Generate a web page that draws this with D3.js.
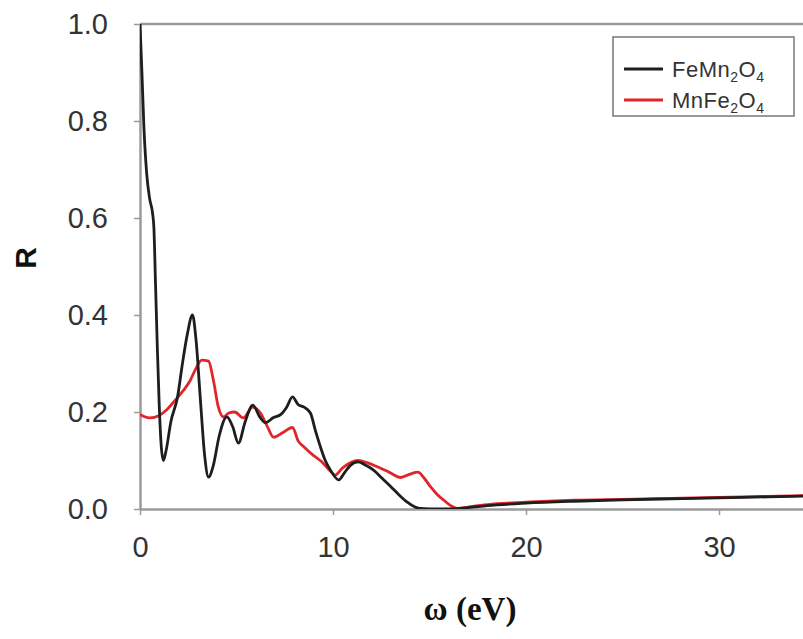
<!DOCTYPE html>
<html>
<head>
<meta charset="utf-8">
<script src="https://cdn.jsdelivr.net/npm/d3@7"></script>
<style>
  body { margin: 0; background: #fff; }
  svg { display: block; }
</style>
</head>
<body>
<svg id="chart"></svg>
<script>
// photon energy (eV) and reflectivity
const feMnE = [0, 0.1, 0.2, 0.35, 0.5, 0.65, 0.72, 0.8, 0.9, 1.0, 1.1, 1.21, 1.35, 1.6, 1.94, 2.2, 2.45, 2.72, 2.9, 3.13, 3.35, 3.55, 3.8, 4.1, 4.5, 4.8, 5.1, 5.45, 5.85, 6.2, 6.5, 6.9, 7.3, 7.6, 7.9, 8.2, 8.5, 8.83, 9.1, 9.35, 9.6, 9.87, 10.3, 10.6, 10.9, 11.3, 11.7, 12.1, 12.5, 13.0, 13.4, 13.85, 14.2, 14.5, 15, 16, 17, 18, 20, 22.5, 25, 27.5, 30, 32.5, 35];
const feMnR = [1.0, 0.9, 0.79, 0.69, 0.64, 0.61, 0.58, 0.47, 0.33, 0.21, 0.13, 0.10, 0.12, 0.18, 0.23, 0.30, 0.36, 0.40, 0.35, 0.225, 0.11, 0.066, 0.09, 0.15, 0.19, 0.17, 0.136, 0.18, 0.214, 0.19, 0.178, 0.188, 0.195, 0.21, 0.231, 0.215, 0.21, 0.198, 0.16, 0.128, 0.10, 0.08, 0.06, 0.075, 0.09, 0.097, 0.09, 0.08, 0.065, 0.046, 0.03, 0.014, 0.005, 0.001, 0, 0, 0.003, 0.007, 0.012, 0.016, 0.019, 0.021, 0.023, 0.025, 0.027];

const mnFeE = [0, 0.5, 1.0, 1.4, 1.84, 2.26, 2.6, 2.9, 3.2, 3.55, 3.8, 4.06, 4.33, 4.6, 4.9, 5.36, 5.83, 6.24, 6.6, 6.92, 7.38, 7.9, 8.2, 8.5, 9.0, 9.4, 9.87, 10.1, 10.5, 11.3, 11.8, 12.3, 12.9, 13.5, 14.0, 14.4, 14.7, 15.05, 15.4, 15.75, 16.1, 16.45, 17, 18, 20, 22.5, 25, 27.5, 30, 32.5, 35];
const mnFeR = [0.195, 0.188, 0.193, 0.205, 0.225, 0.245, 0.265, 0.29, 0.307, 0.305, 0.266, 0.21, 0.19, 0.198, 0.2, 0.188, 0.21, 0.198, 0.17, 0.148, 0.157, 0.168, 0.14, 0.128, 0.11, 0.098, 0.078, 0.07, 0.085, 0.1, 0.095, 0.087, 0.076, 0.065, 0.072, 0.076, 0.065, 0.046, 0.03, 0.018, 0.007, 0.001, 0.004, 0.009, 0.014, 0.018, 0.02, 0.022, 0.024, 0.026, 0.028];

const xTicks = [0, 10, 20, 30];
const yTicks = [0, 0.2, 0.4, 0.6, 0.8, 1.0];

const series = [
    { name: ["FeMn", "2", "O", "4"], e: feMnE, r: feMnR, color: "#1e1e1e" },
    { name: ["MnFe", "2", "O", "4"], e: mnFeE, r: mnFeR, color: "#e0252b" }
];

const width = 803, height = 639;
const margin = { top: 24, left: 140, bottom: 130 };
const axisColor = "#9a9a9a";

const svg = d3.select("#chart")
    .attr("width", width)
    .attr("height", height);

const x = d3.scaleLinear().domain([0, 35]).range([margin.left, margin.left + 35 * 19.3]);
const y = d3.scaleLinear().domain([0, 1]).range([height - margin.bottom, margin.top]);

svg.append("clipPath").attr("id", "clip")
    .append("rect")
    .attr("x", margin.left).attr("y", margin.top - 5)
    .attr("width", width - margin.left).attr("height", y(0) - margin.top + 5);

// top frame line
svg.append("line")
    .attr("x1", x(0)).attr("x2", x(35))
    .attr("y1", y(1)).attr("y2", y(1))
    .attr("stroke", axisColor).attr("stroke-width", 2.5);

const xAxis = svg.append("g")
    .attr("transform", "translate(0," + y(0) + ")")
    .call(d3.axisBottom(x).tickValues(xTicks).tickSize(6).tickSizeOuter(0).tickPadding(14).tickFormat(d3.format("d")));

const yAxis = svg.append("g")
    .attr("transform", "translate(" + x(0) + ",0)")
    .call(d3.axisLeft(y).tickValues(yTicks).tickSize(6).tickSizeOuter(0).tickPadding(26).tickFormat(d3.format(".1f")));

[xAxis, yAxis].forEach(g => {
    g.select(".domain").attr("stroke", axisColor).attr("stroke-width", 2.5);
    g.selectAll(".tick line").attr("stroke", axisColor).attr("stroke-width", 1.5);
    g.selectAll(".tick text")
        .attr("fill", "#333")
        .style("font-family", "'Liberation Sans', Arial, sans-serif")
        .style("font-size", "29px");
});
xAxis.selectAll(".tick text").attr("dy", "0.95em");

const line = d3.line()
    .x(d => x(d[0]))
    .y(d => y(d[1]))
    .curve(d3.curveMonotoneX);

const plot = svg.append("g").attr("clip-path", "url(#clip)");

series.slice().reverse().forEach(s => {
    plot.append("path")
        .datum(s.e.map((e, i) => [e, s.r[i]]))
        .attr("fill", "none")
        .attr("stroke", s.color)
        .attr("stroke-width", 2.8)
        .attr("stroke-linejoin", "round")
        .attr("d", line);
});

// axis titles
svg.append("text")
    .attr("transform", "translate(36,258) rotate(-90)")
    .attr("text-anchor", "middle")
    .style("font-family", "'Liberation Sans', Arial, sans-serif")
    .style("font-size", "30px")
    .style("font-weight", "bold")
    .attr("fill", "#111")
    .text("R");

svg.append("text")
    .attr("x", 470).attr("y", 620)
    .attr("text-anchor", "middle")
    .style("font-family", "'Liberation Serif', 'Times New Roman', serif")
    .style("font-size", "33px")
    .style("font-weight", "bold")
    .attr("fill", "#111")
    .text("ω (eV)");

// legend
const legend = svg.append("g").attr("transform", "translate(613,37)");
legend.append("rect")
    .attr("width", 181).attr("height", 79)
    .attr("fill", "#fff")
    .attr("stroke", "#777").attr("stroke-width", 1.5);

series.forEach((s, i) => {
    const g = legend.append("g").attr("transform", "translate(0," + (32 + i * 31) + ")");
    g.append("line")
        .attr("x1", 11).attr("x2", 50)
        .attr("stroke", s.color).attr("stroke-width", 2.8);
    const t = g.append("text")
        .attr("x", 59).attr("y", 8)
        .style("font-family", "'Liberation Sans', Arial, sans-serif")
        .style("font-size", "22px")
        .style("letter-spacing", "0.5px")
        .attr("fill", "#333");
    s.name.forEach((part, j) => {
        const sub = j % 2 === 1;
        t.append("tspan")
            .attr("dy", sub ? 5 : (j === 0 ? 0 : -5))
            .style("font-size", sub ? "14px" : "22px")
            .text(part);
    });
});
</script>
</body>
</html>
